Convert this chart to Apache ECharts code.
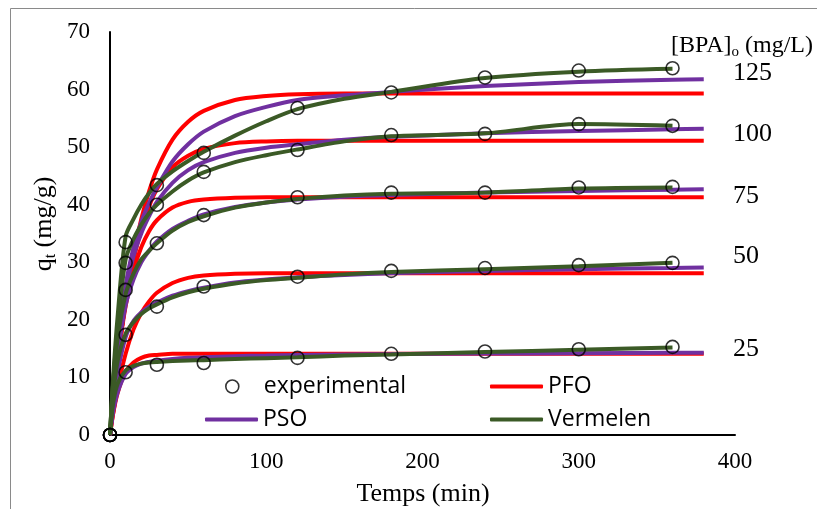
<!DOCTYPE html>
<html>
<head>
<meta charset="utf-8">
<script src="https://cdn.jsdelivr.net/npm/echarts@6/dist/echarts.min.js"></script>
<style>html,body{margin:0;padding:0;background:#fff}#c{width:817px;height:509px}</style>
</head>
<body>
<div id="c"></div>
<script>
// experimental times (min) and values (mg/g)
var expT = [0, 10, 30, 60, 120, 180, 240, 300, 360];
var exp125 = [0, 33.5, 43.4, 49.0, 56.8, 59.5, 62.1, 63.3, 63.7];
var exp100 = [0, 29.9, 40.0, 45.7, 49.5, 52.1, 52.3, 54.0, 53.7];
var exp75  = [0, 25.2, 33.3, 38.2, 41.3, 42.1, 42.1, 43.0, 43.1];
var exp50  = [0, 17.4, 22.3, 25.8, 27.5, 28.5, 29.0, 29.5, 29.9];
var exp25  = [0, 10.9, 12.2, 12.5, 13.4, 14.1, 14.5, 14.9, 15.3];

// model curve times
var modelT = [0, 2, 5, 10, 15, 20, 25, 30, 40, 50, 60, 80, 100, 120, 150, 180, 240, 300, 360, 380];
var pfo125 = [0, 5.6, 13.1, 23.3, 31.3, 37.5, 42.3, 46.1, 51.3, 54.4, 56.3, 58.2, 58.9, 59.2, 59.3, 59.3, 59.3, 59.3, 59.3, 59.3];
var pfo100 = [0, 5.8, 13.2, 23.1, 30.3, 35.7, 39.7, 42.7, 46.5, 48.5, 49.7, 50.7, 51.0, 51.1, 51.1, 51.1, 51.1, 51.1, 51.1, 51.1];
var pfo75  = [0, 6.0, 13.3, 22.4, 28.5, 32.6, 35.4, 37.3, 39.5, 40.5, 40.9, 41.2, 41.3, 41.3, 41.3, 41.3, 41.3, 41.3, 41.3, 41.3];
var pfo50  = [0, 3.7, 8.3, 14.1, 18.3, 21.2, 23.2, 24.7, 26.4, 27.3, 27.7, 28.0, 28.1, 28.1, 28.1, 28.1, 28.1, 28.1, 28.1, 28.1];
var pfo25  = [0, 3.7, 7.4, 11.0, 12.6, 13.4, 13.8, 13.9, 14.1, 14.1, 14.1, 14.1, 14.1, 14.1, 14.1, 14.1, 14.1, 14.1, 14.1, 14.1];

var pso125 = [0, 6, 16, 26, 32.5, 37, 40.3, 43, 47.5, 50.5, 52.7, 55.4, 57.0, 58.2, 59.0, 59.6, 60.6, 61.3, 61.7, 61.8];
var pso100 = [0, 6, 15, 25, 31, 35, 38, 40.5, 43.8, 46.0, 47.4, 49.0, 49.9, 50.5, 51.3, 51.8, 52.4, 52.8, 53.1, 53.2];
var pso75  = [0, 6, 14, 22.5, 27, 30, 32, 33.6, 35.8, 37.2, 38.3, 39.6, 40.4, 40.9, 41.4, 41.7, 42.1, 42.4, 42.6, 42.7];
var pso50  = [0, 5, 11, 17, 19.8, 21.3, 22.3, 23.0, 24.2, 25.0, 25.6, 26.5, 27.0, 27.4, 27.8, 28.1, 28.5, 28.8, 29.0, 29.1];
var pso25  = [0, 4, 7.5, 10.6, 11.8, 12.4, 12.7, 12.9, 13.2, 13.4, 13.5, 13.7, 13.8, 13.9, 14.0, 14.05, 14.15, 14.2, 14.3, 14.3];

var verT = [0, 2, 5, 10, 15, 20, 25, 30, 40, 50, 60, 80, 100, 120, 150, 180, 240, 300, 360];
var ver125 = [0, 10, 21, 34.5, 37.5, 40, 42, 43.6, 45.8, 47.6, 49.2, 52.0, 54.5, 56.6, 58.4, 59.6, 62.0, 63.1, 63.6];
var ver100 = [0, 9, 19, 30.5, 34, 36.5, 38.5, 40.0, 42.3, 44.2, 45.6, 47.4, 48.6, 49.6, 51.0, 51.9, 52.4, 54.0, 53.7];
var ver75  = [0, 9, 17, 24.5, 28, 30.5, 32, 33.3, 35.5, 37.0, 38.0, 39.5, 40.4, 41.0, 41.6, 41.9, 42.1, 42.8, 43.0];
var ver50  = [0, 7, 13, 17.6, 19.6, 21.0, 22.0, 22.7, 23.9, 24.8, 25.4, 26.3, 26.9, 27.3, 27.9, 28.3, 28.8, 29.3, 29.9];
var ver25  = [0, 5.5, 9, 11.2, 12.0, 12.4, 12.6, 12.7, 12.85, 12.95, 13.0, 13.2, 13.35, 13.5, 13.8, 14.0, 14.4, 14.8, 15.2];

var concLabels = ['125', '100', '75', '50', '25'];
var xTicks = [0, 100, 200, 300, 400];
var yTicks = [0, 10, 20, 30, 40, 50, 60, 70];

var RED = '#FF0000', PURPLE = '#7030A0', GREEN = '#3B5A26';
function zip(t, v) { return t.map(function (x, i) { return [x, v[i]]; }); }
function lineS(name, color, t, v, z) {
  return { name: name, type: 'line', data: zip(t, v), smooth: 0.3, symbol: 'none', z: z,
    lineStyle: { color: color, width: 4 }, itemStyle: { color: color }, silent: true, animation: false };
}
var series = [];
[pfo125, pfo100, pfo75, pfo50, pfo25].forEach(function (v) { series.push(lineS('PFO', RED, modelT, v, 2)); });
[pso125, pso100, pso75, pso50, pso25].forEach(function (v) { series.push(lineS('PSO', PURPLE, modelT, v, 3)); });
[ver125, ver100, ver75, ver50, ver25].forEach(function (v) { series.push(lineS('Vermelen', GREEN, verT, v, 4)); });
[exp125, exp100, exp75, exp50, exp25].forEach(function (v) {
  series.push({ name: 'experimental', type: 'scatter', data: zip(expT, v), symbol: 'circle', symbolSize: 13, z: 5,
    itemStyle: { color: 'rgba(0,0,0,0)', borderColor: '#000', borderWidth: 1.6 }, silent: true, animation: false });
});

var legFont = { fontFamily: 'Open Sans', fontSize: 23, color: '#000' };
function legLine(name, left, cy, color) {
  return { data: [{ name: name, icon: 'roundRect', itemStyle: { color: color, borderWidth: 0 } }],
    left: left, top: cy - 14, itemWidth: 53, itemHeight: 4, itemGap: 0,
    selectedMode: false, textStyle: legFont, padding: 0 };
}
var legends = [
  { data: [{ name: 'experimental', icon: 'circle', itemStyle: { color: 'rgba(0,0,0,0)', borderColor: '#000', borderWidth: 1.6 } }],
    left: 225, top: 389 - 14, itemWidth: 13, itemHeight: 13, selectedMode: false,
    textStyle: Object.assign({ padding: [0, 0, 0, 20] }, legFont), padding: 0 },
  legLine('PFO', 490, 389, RED),
  legLine('PSO', 205, 422, PURPLE),
  legLine('Vermelen', 490, 422, GREEN)
];

var serif = 'Liberation Serif';
var graphics = [
  { type: 'rect', shape: { x: 10.5, y: 8.5, width: 840, height: 540 }, style: { fill: 'none', stroke: '#8a8a8a', lineWidth: 1 }, silent: true },
  { type: 'text', x: 423, y: 494, style: { text: 'Temps (min)', fontFamily: serif, fontSize: 26, fill: '#000', align: 'center', verticalAlign: 'middle' } },
  { type: 'text', x: 44, y: 224, rotation: Math.PI / 2, style: { text: '{a|q}{s|t}{a| (mg/g)}', align: 'center', verticalAlign: 'middle', fill: '#000',
      rich: { a: { fontFamily: serif, fontSize: 26, lineHeight: 32, verticalAlign: 'middle' }, s: { fontFamily: serif, fontSize: 16, lineHeight: 32, padding: [13, 0, 0, 0] } } } },
  { type: 'text', x: 671, y: 46, style: { text: '{a|[BPA]}{s|o}{a| (mg/L)}', align: 'left', verticalAlign: 'middle', fill: '#000',
      rich: { a: { fontFamily: serif, fontSize: 24, lineHeight: 28 }, s: { fontFamily: serif, fontSize: 15, lineHeight: 28, padding: [12, 0, 0, 0] } } } }
];
var labelY = [73, 134, 196, 256, 349];
concLabels.forEach(function (c, i) {
  graphics.push({ type: 'text', x: 733, y: labelY[i], style: { text: c, fontFamily: serif, fontSize: 26, fill: '#000', align: 'left', verticalAlign: 'middle' } });
});

var chart = echarts.init(document.getElementById('c'), null, { renderer: 'canvas' });
chart.setOption({
  animation: false,
  backgroundColor: '#fff',
  grid: { left: 110, right: 82, top: 32, bottom: 74, containLabel: false },
  xAxis: { type: 'value', min: xTicks[0], max: xTicks[xTicks.length - 1], interval: 100,
    axisLine: { show: true, onZero: false, lineStyle: { color: '#000', width: 2 } }, axisTick: { show: false }, splitLine: { show: false },
    axisLabel: { margin: 15, fontFamily: serif, fontSize: 23, color: '#000' } },
  yAxis: { type: 'value', min: yTicks[0], max: yTicks[yTicks.length - 1], interval: 10,
    axisLine: { show: true, onZero: false, lineStyle: { color: '#000', width: 2 } }, axisTick: { show: false }, splitLine: { show: false },
    axisLabel: { margin: 20, fontFamily: serif, fontSize: 23, color: '#000' } },
  legend: legends,
  graphic: graphics,
  series: series
});
</script>
</body>
</html>
